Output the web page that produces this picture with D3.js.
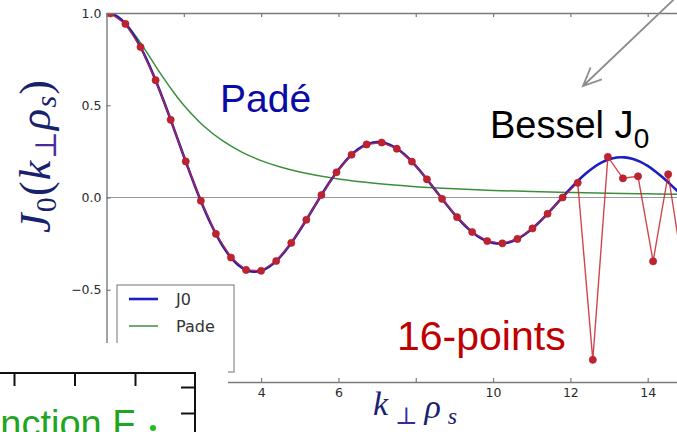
<!DOCTYPE html>
<html>
<head>
<meta charset="utf-8">
<script src="https://cdn.jsdelivr.net/npm/d3@7"></script>
<style>
  html, body { margin: 0; padding: 0; background: #fff; }
  svg { display: block; }
</style>
</head>
<body>
<svg id="chart" width="677" height="432"></svg>
<script>
// Bessel J0 compared with its Padé approximant and a 16-point quadrature.

// Smooth Bessel J0 curve samples
const besselK = [0, 0.1, 0.2, 0.3, 0.4, 0.5, 0.6, 0.7, 0.8, 0.9, 1.0, 1.1, 1.2, 1.3, 1.4, 1.5, 1.6, 1.7, 1.8, 1.9,
  2.0, 2.1, 2.2, 2.3, 2.4, 2.5, 2.6, 2.7, 2.8, 2.9, 3.0, 3.2, 3.4, 3.6, 3.8, 4.0, 4.2, 4.4, 4.6, 4.8,
  5.0, 5.2, 5.4, 5.6, 5.8, 6.0, 6.2, 6.4, 6.6, 6.8, 7.0, 7.2, 7.4, 7.6, 7.8, 8.0, 8.2, 8.4, 8.6, 8.8,
  9.0, 9.2, 9.4, 9.6, 9.8, 10.0, 10.2, 10.4, 10.6, 10.8, 11.0, 11.2, 11.4, 11.6, 11.8, 12.0, 12.2, 12.4,
  12.6, 12.8, 13.0, 13.2, 13.4, 13.6, 13.8, 14.0, 14.2, 14.4, 14.6, 14.8, 15.0];
const besselJ0 = [1.0, 0.9975, 0.99, 0.9776, 0.9604, 0.9385, 0.912, 0.8812, 0.8463, 0.8075, 0.7652, 0.7196, 0.6711, 0.6201, 0.5669, 0.5118, 0.4554, 0.398, 0.34, 0.2818,
  0.2239, 0.1666, 0.1104, 0.0555, 0.0025, -0.0484, -0.0968, -0.1424, -0.185, -0.2243, -0.2601, -0.3202, -0.3643, -0.3918, -0.4026, -0.3971, -0.3766, -0.3423, -0.2961, -0.2404,
  -0.1776, -0.1103, -0.0412, 0.027, 0.0917, 0.1506, 0.2017, 0.2433, 0.274, 0.2931, 0.3001, 0.2951, 0.2786, 0.2516, 0.2154, 0.1717, 0.1222, 0.0692, 0.0146, -0.0392,
  -0.0903, -0.1367, -0.1768, -0.209, -0.2323, -0.2459, -0.2496, -0.2434, -0.2276, -0.2032, -0.1712, -0.133, -0.0903, -0.0446, 0.002, 0.0477, 0.0908, 0.1296,
  0.1626, 0.1887, 0.2069, 0.2167, 0.2177, 0.2101, 0.1943, 0.1711, 0.1414, 0.1067, 0.0686, 0.0285, -0.0142];

// Padé approximant samples
const padeK = [0, 0.25, 0.5, 0.75, 1.0, 1.25, 1.5, 1.75, 2.0, 2.5, 3.0, 3.5, 4.0, 4.5, 5.0, 6.0, 7.0, 8.0, 9.0, 10.0, 11.0, 12.0, 13.0, 14.0, 15.0, 16.0];
const padeValues = [1.0, 0.9846, 0.9412, 0.8767, 0.8, 0.7191, 0.64, 0.5664, 0.5, 0.3902, 0.3077, 0.2462, 0.2, 0.1649, 0.1379, 0.1, 0.0755, 0.0588, 0.0471, 0.0385, 0.032, 0.027, 0.0231, 0.02, 0.0175, 0.0154];

// 16-point quadrature evaluations
const quadK = [0.1, 0.49, 0.88, 1.27, 1.66, 2.05, 2.44, 2.83, 3.22, 3.61, 4.0, 4.39, 4.78, 5.17, 5.56, 5.95, 6.34, 6.73, 7.12, 7.51,
  7.9, 8.29, 8.68, 9.07, 9.46, 9.85, 10.24, 10.63, 11.02, 11.41, 11.8, 12.19, 12.58, 12.97, 13.36, 13.75, 14.14, 14.53, 14.92];
const quadValues = [0.9975, 0.9408, 0.8154, 0.6357, 0.4211, 0.1953, -0.018, -0.197, -0.3252, -0.3925, -0.3971, -0.3442, -0.2463, -0.1205, 0.0134, 0.1366, 0.2317, 0.2874, 0.298, 0.2644,
  0.1945, 0.0986, -0.007, -0.1068, -0.1871, -0.2362, -0.2486, -0.2245, -0.1676, -0.0882, 0.0, 0.08, -0.88, 0.22, 0.104, 0.115, -0.346, 0.126, -0.4];

// Axis ticks
const xTicks = [0, 2, 4, 6, 8, 10, 12, 14];
const yTicks = [-1.0, -0.5, 0.0, 0.5, 1.0];

// Legend entries
const legendLabels = ["J0", "Pade"];

const svg = d3.select("#chart");
const x = d3.scaleLinear().domain([0, 16]).range([106.5, 725]);
const y = d3.scaleLinear().domain([-1, 1]).range([382, 13]);

const blue = "#1d1dc4", green = "#3b8f3b", red = "#c9262e";

svg.append("defs").append("clipPath").attr("id", "plotClip")
  .append("rect").attr("x", x(0)).attr("y", y(1)).attr("width", x(16) - x(0)).attr("height", y(-1) - y(1));

const plot = svg.append("g").attr("clip-path", "url(#plotClip)");

// zero reference line
plot.append("line")
  .attr("x1", x(0)).attr("x2", x(16)).attr("y1", y(0)).attr("y2", y(0))
  .attr("stroke", "#9a9a9a").attr("stroke-width", 1.2);

const line = d3.line().x(d => x(d[0])).y(d => y(d[1]));
const smooth = d3.line().x(d => x(d[0])).y(d => y(d[1])).curve(d3.curveCatmullRom);

plot.append("path").datum(d3.zip(padeK, padeValues))
  .attr("d", smooth).attr("fill", "none").attr("stroke", green).attr("stroke-width", 1.5);

plot.append("path").datum(d3.zip(besselK, besselJ0))
  .attr("d", smooth).attr("fill", "none").attr("stroke", blue).attr("stroke-width", 2.6);

const quad = d3.zip(quadK, quadValues);
plot.append("path").datum(quad)
  .attr("d", line).attr("fill", "none").attr("stroke", red).attr("stroke-opacity", 0.85).attr("stroke-width", 1.4);
plot.selectAll("circle.q").data(quad).join("circle")
  .attr("class", "q").attr("cx", d => x(d[0])).attr("cy", d => y(d[1])).attr("r", 3.6)
  .attr("fill", "#bf2330").attr("stroke", "#a81c28").attr("stroke-width", 0.6);

// frame and inward ticks
const axisColor = "#7a7a7a";
function styleAxis(g) {
  g.select(".domain").attr("stroke", axisColor).attr("stroke-width", 1.4);
  g.selectAll(".tick line").attr("stroke", axisColor).attr("stroke-width", 1.2);
  g.selectAll(".tick text").attr("fill", "#2a2a2a")
    .style("font-family", "'DejaVu Sans', sans-serif").style("font-size", "12.5px");
}
const fmt = d3.format(".1f");
svg.append("g").attr("transform", `translate(0,${y(-1)})`)
  .call(d3.axisBottom(x).tickValues(xTicks).tickSizeInner(-4).tickSizeOuter(0).tickPadding(6).tickFormat(d3.format("d")))
  .call(styleAxis);
svg.append("g").attr("transform", `translate(0,${y(1)})`)
  .call(d3.axisTop(x).tickValues(xTicks).tickSizeInner(-4).tickSizeOuter(0).tickFormat(""))
  .call(styleAxis);
svg.append("g").attr("transform", `translate(${x(0)},0)`)
  .call(d3.axisLeft(y).tickValues(yTicks).tickSizeInner(-4).tickSizeOuter(0).tickPadding(5).tickFormat(fmt))
  .call(styleAxis);

// legend
const lg = svg.append("g");
lg.append("rect").attr("x", 117).attr("y", 285).attr("width", 117).attr("height", 87)
  .attr("fill", "#fff").attr("stroke", "#8a8a8a").attr("stroke-width", 1.2);
const legendColors = [blue, green];
const legendWidths = [2.6, 1.5];
legendLabels.forEach((lab, i) => {
  const ly = 299 + i * 27;
  lg.append("line").attr("x1", 129).attr("x2", 158).attr("y1", ly).attr("y2", ly)
    .attr("stroke", legendColors[i]).attr("stroke-width", legendWidths[i]);
  lg.append("text").attr("x", 176).attr("y", ly + 6).text(lab)
    .attr("fill", "#333").style("font-family", "'DejaVu Sans', sans-serif").style("font-size", "16px");
});

// annotations
const sans = "'Liberation Sans', Arial, sans-serif";
svg.append("text").attr("x", 220).attr("y", 112).text("Padé")
  .attr("fill", "#0a0aa6").style("font-family", sans).style("font-size", "39px");
const bes = svg.append("text").attr("x", 490).attr("y", 138)
  .attr("fill", "#000").style("font-family", sans).style("font-size", "38px");
bes.append("tspan").text("Bessel J");
bes.append("tspan").attr("dy", 10).style("font-size", "28px").text("0");
svg.append("text").attr("x", 397).attr("y", 350).text("16-points")
  .attr("fill", "#c00000").style("font-family", sans).style("font-size", "41px");

// arrow pointing at the Bessel curve
const tip = [583, 86], tail = [690, -16];
const ang = Math.atan2(tail[1] - tip[1], tail[0] - tip[0]);
const ah = 20, spread = 0.42;
svg.append("path")
  .attr("d", `M${tail[0]},${tail[1]}L${tip[0]},${tip[1]}` +
    `M${tip[0] + ah * Math.cos(ang - spread)},${tip[1] + ah * Math.sin(ang - spread)}L${tip[0]},${tip[1]}` +
    `L${tip[0] + ah * Math.cos(ang + spread)},${tip[1] + ah * Math.sin(ang + spread)}`)
  .attr("fill", "none").attr("stroke", "#8c8c8c").attr("stroke-width", 1.8);

// axis titles (math style)
const serif = "'Liberation Serif', 'DejaVu Serif', serif";
const mathColor = "#17226e";
svg.append("rect").attr("x", 368).attr("y", 388).attr("width", 96).attr("height", 44).attr("fill", "#fff");
const xl = svg.append("text").attr("x", 373).attr("y", 415).attr("textLength", 84).attr("lengthAdjust", "spacing")
  .attr("fill", mathColor).style("font-family", serif).style("font-size", "34px");
xl.append("tspan").style("font-style", "italic").text("k");
xl.append("tspan").attr("dy", 9).style("font-size", "24px").attr("fill", "#3a2a9a").text("⊥");
xl.append("tspan").attr("dy", -6).style("font-style", "italic").text("ρ");
xl.append("tspan").attr("dy", 6).style("font-style", "italic").style("font-size", "24px").text("s");

const yl = svg.append("text").attr("transform", "translate(50,157) rotate(-90)")
  .attr("x", -76).attr("y", 0).attr("textLength", 153).attr("lengthAdjust", "spacing")
  .attr("fill", mathColor).style("font-family", serif).style("font-size", "44px");
yl.append("tspan").style("font-style", "italic").text("J");
yl.append("tspan").attr("dy", 6).style("font-size", "30px").text("0");
yl.append("tspan").attr("dy", -6).text("(");
yl.append("tspan").style("font-style", "italic").text("k");
yl.append("tspan").attr("dy", 6).style("font-size", "30px").attr("fill", "#4a2a9a").text("⊥");
yl.append("tspan").attr("dy", -6).style("font-style", "italic").text("ρ");
yl.append("tspan").attr("dy", 6).style("font-style", "italic").style("font-size", "30px").text("s");
yl.append("tspan").attr("dy", -6).text(")");

// inset panel in the lower-left corner
const inset = svg.append("g");
inset.append("rect").attr("x", 0).attr("y", 343).attr("width", 228).attr("height", 89).attr("fill", "#fff");
const fx = d3.scaleLinear().domain([0, 3]).range([14, 195.5]);
const fy = d3.scaleLinear().domain([0, 1]).range([387, 413]);
inset.append("g").attr("transform", "translate(0,373)")
  .call(d3.axisBottom(fx).tickValues([0, 1, 2]).tickSizeInner(13).tickSizeOuter(0).tickFormat(""))
  .call(g => g.select(".domain").remove())
  .call(g => g.selectAll(".tick line").attr("stroke", "#111").attr("stroke-width", 2));
inset.append("g").attr("transform", "translate(195,0)")
  .call(d3.axisLeft(fy).tickValues([0, 1]).tickSizeInner(14).tickSizeOuter(0).tickFormat(""))
  .call(g => g.select(".domain").remove())
  .call(g => g.selectAll(".tick line").attr("stroke", "#111").attr("stroke-width", 2));
inset.append("path").attr("d", "M0,373H195V432").attr("fill", "none").attr("stroke", "#111").attr("stroke-width", 2);
inset.append("text").attr("x", -44).attr("y", 437).text("Function F")
  .attr("fill", "#1fa51f").style("font-family", sans).style("font-size", "38px");
inset.append("circle").attr("cx", 153).attr("cy", 428).attr("r", 3).attr("fill", "#1fbf1f");
</script>
</body>
</html>
